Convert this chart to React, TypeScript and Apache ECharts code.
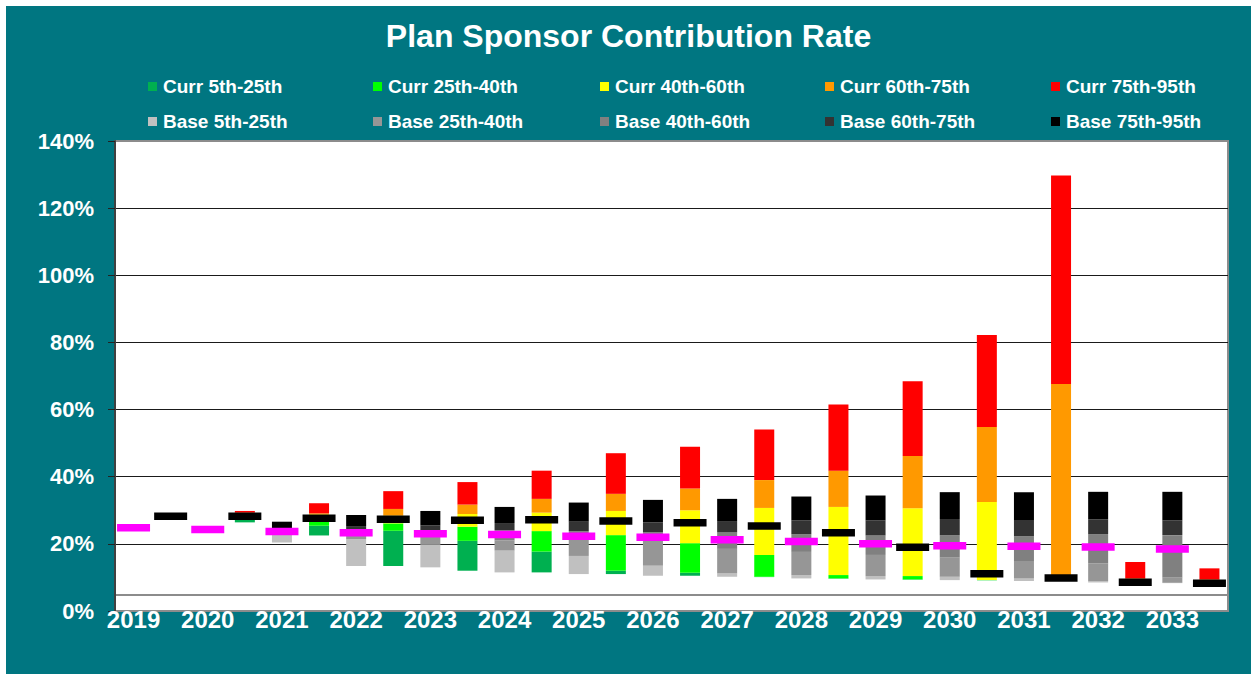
import React, { useEffect, useRef } from "react";
import * as echarts from "echarts";

const years = ["2019","2020","2021","2022","2023","2024","2025","2026","2027","2028","2029","2030","2031","2032","2033"];

// Curr percentiles by year (null = no bar)
const currP5  = [null, 26.4, 22.5, 13.4, 12.0, 11.5, 11.0, 10.5, 10.1, 9.6, 9.3, 9.1, 9.5, 8.2, 8.0];
const currP25 = [null, 27.2, 25.4, 23.9, 20.9, 17.7, 12.0, 11.4, 10.2, 9.7, 9.4, 9.15, 9.8, 8.4, 8.1];
const currP40 = [null, 27.8, 26.6, 26.1, 25.1, 23.8, 22.6, 20.2, 16.7, 10.7, 10.4, 9.2, 10.2, 8.6, 8.2];
const currP60 = [null, 28.6, 28.8, 28.4, 28.9, 29.3, 29.8, 30.0, 30.7, 31.0, 30.6, 32.5, 10.6, 9.0, 8.6];
const currP75 = [null, 29.3, 29.1, 30.4, 31.7, 33.4, 34.9, 36.5, 39.0, 41.8, 46.2, 54.8, 67.6, 9.7, 9.4];
const currP95 = [null, 29.8, 32.1, 35.7, 38.4, 41.8, 47.0, 48.9, 54.1, 61.5, 68.4, 82.2, 129.7, 14.6, 12.7];
const currMarker = [28.2, 28.2, 27.6, 27.3, 27.0, 27.2, 26.8, 26.3, 25.3, 23.3, 19.0, 11.1, 9.8, 8.6, 8.3];

// Base percentiles by year
const baseP5  = [null, null, 20.4, 13.4, 13.0, 11.5, 11.0, 10.5, 10.2, 9.7, 9.4, 9.2, 8.9, 8.5, 8.3];
const baseP25 = [null, null, 22.8, 21.4, 19.7, 18.0, 16.4, 13.5, 11.2, 10.7, 10.4, 10.2, 9.7, 8.9, 8.4];
const baseP40 = [null, null, 23.2, 22.6, 22.2, 21.0, 21.5, 21.5, 18.5, 17.6, 16.7, 15.9, 14.9, 14.2, 10.0];
const baseP60 = [null, null, 23.8, 24.2, 24.0, 24.1, 23.8, 23.5, 23.4, 22.9, 22.5, 22.6, 22.3, 22.9, 22.6];
const baseP75 = [null, null, 24.5, 25.3, 25.5, 26.2, 26.6, 26.4, 26.8, 27.0, 27.0, 27.4, 27.1, 27.3, 27.0];
const baseP95 = [null, null, 26.6, 28.6, 29.8, 31.0, 32.3, 33.1, 33.4, 34.1, 34.4, 35.4, 35.4, 35.5, 35.5];
const baseMarker = [24.8, 24.3, 23.7, 23.3, 23.0, 22.8, 22.3, 22.0, 21.2, 20.7, 20.0, 19.4, 19.3, 19.1, 18.5];

const currNames = ["Curr 5th-25th", "Curr 25th-40th", "Curr 40th-60th", "Curr 60th-75th", "Curr 75th-95th"];
const baseNames = ["Base 5th-25th", "Base 25th-40th", "Base 40th-60th", "Base 60th-75th", "Base 75th-95th"];
const currColors = ["#00B050", "#00FF00", "#FFFF00", "#FF9900", "#FF0000"];
const baseColors = ["#C0C0C0", "#969696", "#808080", "#333333", "#000000"];

const FONT = 'Arial, "Liberation Sans", sans-serif';

export default function App() {
  const ref = useRef<HTMLDivElement>(null);
  useEffect(() => {
    if (!ref.current) return;
    const chart = echarts.init(ref.current, null, { renderer: "svg" });

    // 30 slots: even = Base (year), odd = Curr
    const slots: string[] = [];
    years.forEach((y) => { slots.push(y); slots.push(""); });
    const n = slots.length;
    const blank = () => new Array(n).fill("-") as any[];

    const floor = blank();
    years.forEach((_, k) => {
      if (baseP5[k] != null) floor[2 * k] = baseP5[k];
      if (currP5[k] != null) floor[2 * k + 1] = currP5[k];
    });

    const currBounds = [currP5, currP25, currP40, currP60, currP75, currP95];
    const baseBounds = [baseP5, baseP25, baseP40, baseP60, baseP75, baseP95];

    const bandSeries: any[] = [];
    currNames.forEach((name, i) => {
      const d = blank();
      years.forEach((_, k) => {
        const lo = currBounds[i][k], hi = currBounds[i + 1][k];
        if (lo != null && hi != null) d[2 * k + 1] = +(hi - lo).toFixed(3);
      });
      bandSeries.push({ name, type: "bar", stack: "s", data: d, barWidth: 20, itemStyle: { color: currColors[i] }, z: 3 });
    });
    baseNames.forEach((name, i) => {
      const d = blank();
      years.forEach((_, k) => {
        const lo = baseBounds[i][k], hi = baseBounds[i + 1][k];
        if (lo != null && hi != null) d[2 * k] = +(hi - lo).toFixed(3);
      });
      bandSeries.push({ name, type: "bar", stack: "s", data: d, barWidth: 20, itemStyle: { color: baseColors[i] }, z: 3 });
    });

    const magenta = blank();
    const black = blank();
    years.forEach((_, k) => {
      magenta[2 * k] = baseMarker[k];
      black[2 * k + 1] = currMarker[k];
    });

    const legendLefts = [142, 367, 594, 819, 1045];
    const legends: any[] = [];
    currNames.forEach((nm, i) => legends.push({ data: [nm], left: legendLefts[i], top: 71 }));
    baseNames.forEach((nm, i) => legends.push({ data: [nm], left: legendLefts[i], top: 106 }));
    legends.forEach((l) => {
      l.icon = "rect";
      l.itemWidth = 9;
      l.itemHeight = 9;
      l.padding = 0;
      l.selectedMode = false;
      l.textStyle = { color: "#fff", fontSize: 19, fontWeight: "bold", fontFamily: FONT, padding: [0, 0, 0, 1] };
    });

    chart.setOption({
      animation: false,
      backgroundColor: "#007681",
      textStyle: { fontFamily: FONT },
      title: {
        text: "Plan Sponsor Contribution Rate",
        left: "center",
        top: 9,
        textStyle: { color: "#fff", fontSize: 32, fontWeight: "bold", fontFamily: FONT },
      },
      legend: legends,
      grid: {
        left: 109, top: 135, width: 1113, height: 470,
        show: true, backgroundColor: "#ffffff", borderColor: "#8c8c8c", borderWidth: 2,
      },
      xAxis: {
        type: "category",
        data: slots,
        axisLine: { show: false },
        axisTick: { show: false },
        axisLabel: {
          interval: 0, margin: -4, color: "#fff", fontSize: 24, fontWeight: "bold", fontFamily: FONT,
        },
      },
      yAxis: {
        type: "value",
        min: 0, max: 140, interval: 20,
        axisLine: { show: true, lineStyle: { color: "#404040", width: 2 } },
        axisTick: { show: true, length: 7, lineStyle: { color: "#222", width: 1 } },
        axisLabel: { margin: 21, color: "#fff", fontSize: 22, fontWeight: "bold", fontFamily: FONT, formatter: "{value}%" },
        splitLine: { show: true, showMinLine: false, showMaxLine: false, lineStyle: { color: "#1a1a1a", width: 1 } },
      },
      graphic: [
        { type: "line", shape: { x1: 110, y1: 589, x2: 1221, y2: 589 }, style: { stroke: "#8c8c8c", lineWidth: 2 }, z: 1 },
      ],
      series: [
        { name: "floor", type: "bar", stack: "s", data: floor, barWidth: 20, itemStyle: { color: "transparent" }, silent: true, z: 3 },
        ...bandSeries,
        { name: "Base marker", type: "scatter", data: magenta, symbol: "rect", symbolSize: [33, 7.5], itemStyle: { color: "#FF00FF", opacity: 1 }, z: 5 },
        { name: "Curr marker", type: "scatter", data: black, symbol: "rect", symbolSize: [33, 7.5], itemStyle: { color: "#000000", opacity: 1 }, z: 5 },
      ],
    });
    return () => chart.dispose();
  }, []);

  return (
    <div style={{ position: "absolute", left: 6, top: 6, width: 1245, height: 668 }}>
      <div ref={ref} style={{ width: 1245, height: 668 }} />
    </div>
  );
}
